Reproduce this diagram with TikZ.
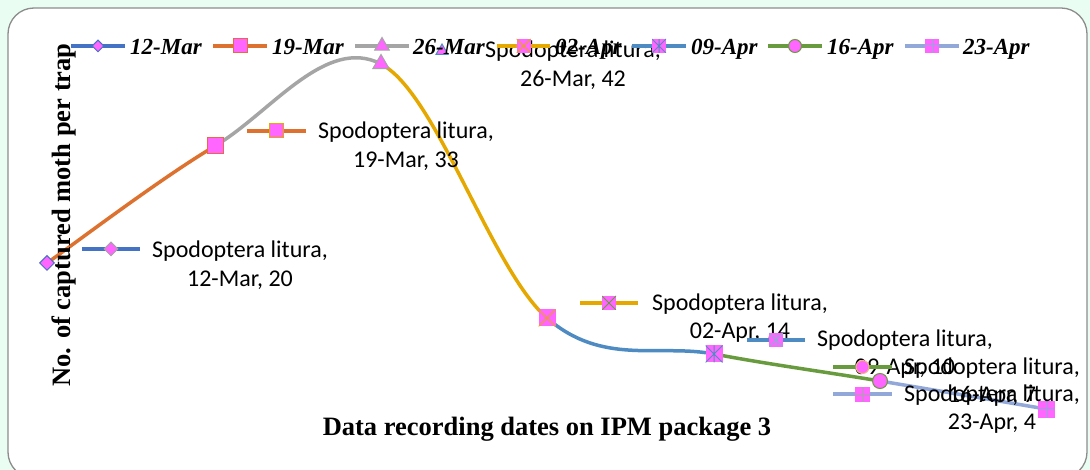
\documentclass[tikz,border=0pt]{standalone}
\usepackage{fontspec}
\setmainfont{Liberation Serif}
\newfontfamily\lblfont{Carlito}
\usetikzlibrary{shapes.geometric}

\definecolor{mint}{HTML}{E9FDF3}
\definecolor{framegray}{HTML}{8C8C8C}
\definecolor{pinkmk}{HTML}{FF66FF}
\definecolor{serA}{HTML}{4472C4}
\definecolor{serB}{HTML}{DD7230}
\definecolor{serC}{HTML}{A5A5A5}
\definecolor{serD}{HTML}{E5A800}
\definecolor{serE}{HTML}{4E8BC2}
\definecolor{serF}{HTML}{689B3E}
\definecolor{serG}{HTML}{92A8D8}
\definecolor{sqedge}{HTML}{E8684A}
\definecolor{peach}{HTML}{F4B183}

\begin{document}
\begin{tikzpicture}[x=1pt,y=-1pt,
    mk/.style={fill=pinkmk,inner sep=0pt,line width=1pt},
    mkdia/.style={mk,diamond,draw=#1,minimum size=15pt},
    mksq/.style={mk,rectangle,draw=#1,minimum size=16pt},
    mktri/.style={mk,regular polygon,regular polygon sides=3,draw=#1,minimum size=19pt},
    mkdot/.style={mk,circle,draw=#1,minimum size=15pt},
    mkcross/.style={mk,rectangle,minimum size=17pt,path picture={
        \draw[#1,line width=1pt] (path picture bounding box.south west) -- (path picture bounding box.north east)
            (path picture bounding box.north west) -- (path picture bounding box.south east);}},
    mkstar/.style={mk,rectangle,minimum size=17pt,path picture={
        \draw[#1,line width=1pt] (path picture bounding box.south west) -- (path picture bounding box.north east)
            (path picture bounding box.north west) -- (path picture bounding box.south east)
            (path picture bounding box.north) -- (path picture bounding box.south);}},
    mkplus/.style={mk,rectangle,minimum size=17pt,path picture={
        \draw[#1,line width=1pt] (path picture bounding box.north) -- (path picture bounding box.south)
            (path picture bounding box.west) -- (path picture bounding box.east);}},
    series/.style={line width=3.5pt,#1},
    keyln/.style={line width=4pt,#1},
    legln/.style={line width=4pt,#1},
    lbl/.style={font=\lblfont\fontsize{24}{28.5}\selectfont,align=center,inner sep=0pt},
    leg/.style={font=\bfseries\itshape\fontsize{23}{27}\selectfont,anchor=base west,inner sep=0pt},
    ttl/.style={font=\bfseries\fontsize{26.5}{30}\selectfont,inner sep=0pt}]

    \useasboundingbox (0,0) rectangle (1090,470);
    \fill[mint] (0,0) rectangle (1090,470);
    \draw[framegray,line width=1.3pt,fill=white,rounded corners=26pt] (8,8) rectangle (1087,478);

    % data points
    \coordinate (d1) at (47,263);
    \coordinate (d2) at (215,146);
    \coordinate (d3) at (381,64);
    \coordinate (d4) at (547,318);
    \coordinate (d5) at (714,354);
    \coordinate (d6) at (880,381);
    \coordinate (d7) at (1046,409);

    % smoothed line
    \draw[series=serB] (d1) .. controls (75,243.5) and (159.3,179.2) .. (d2);
    \draw[series=serC] (d2) .. controls (270.7,112.8) and (325.7,35.3) .. (d3);
    \draw[series=serD] (d3) .. controls (436.3,92.7) and (491.5,269.7) .. (d4);
    \draw[series=serE] (d4) .. controls (602.5,366.3) and (658.5,343.5) .. (d5);
    \draw[series=serF] (d5) .. controls (769.5,364.5) and (824.7,371.8) .. (d6);
    \draw[series=serG] (d6) .. controls (935.3,390.2) and (1018.3,404.3) .. (d7);

    \node[mkdia=serA] (d1m) at (d1) {};
    \node[mksq=sqedge] (d2m) at (d2) {};
    \node[mktri=serC] (d3m) at (d3) {};
    \node[mkcross=serD] (d4m) at (d4) {};
    \node[mkstar=serE] (d5m) at (d5) {};
    \node[mkdot=serF] (d6m) at (d6) {};
    \node[mkplus=serG] (d7m) at (d7) {};

    % axis titles
    \node[ttl] (xt) at (547,429) {Data recording dates on IPM package 3};
    \node[ttl,rotate=90] (yt) at (64,215) {No. of captured moth per trap};

    % data labels
    \draw[keyln=serA] (82,249) -- (140,249) node[pos=.5,mkdia=serC,minimum size=14pt] (k1) {};
    \node[lbl] (l1) at (240,265) {Spodoptera litura,\\12-Mar, 20};
    \draw[keyln=serB] (247,131) -- (306,131) node[pos=.5,mksq=serD,minimum size=14pt] (k2) {};
    \node[lbl] (l2) at (406,146) {Spodoptera litura,\\19-Mar, 33};
    \node[mktri=serE,minimum size=14pt,line width=1pt] (k3) at (442,51) {};
    \node[lbl] (l3) at (573,65) {Spodoptera litura,\\26-Mar, 42};
    \draw[keyln=serD] (580,303) -- (638,303) node[pos=.5,mkcross=serF,minimum size=14pt] (k4) {};
    \node[lbl] (l4) at (740,318) {Spodoptera litura,\\02-Apr, 14};
    \draw[keyln=serE] (747,340) -- (805,340) node[pos=.5,mkstar=serG,minimum size=14pt] (k5) {};
    \node[lbl] (l5) at (905,354) {Spodoptera litura,\\09-Apr, 10};
    \draw[keyln=serF] (833,367) -- (892,367) node[pos=.5,mkdot=peach,minimum size=13pt] (k6) {};
    \node[lbl] (l6) at (992,382) {Spodoptera litura,\\16-Apr, 7};
    \draw[keyln=serG] (833,394) -- (892,394) node[pos=.5,mkplus=serC,minimum size=15pt] (k7) {};
    \node[lbl] (l7) at (992,409) {Spodoptera litura,\\23-Apr, 4};

    % legend
    \draw[legln=serA] (71,46) -- (125,46) node[pos=.5,mkdia=serA,minimum size=12pt] (g1) {};
    \node[leg] (g1t) at (130,55) {12-Mar};
    \draw[legln=serB] (213,46) -- (267,46) node[pos=.5,mksq=sqedge,minimum size=14pt] (g2) {};
    \node[leg] (g2t) at (272,55) {19-Mar};
    \draw[legln=serC] (355,46) -- (409,46) node[pos=.5,mktri=serC,minimum size=17pt] (g3) {};
    \node[leg] (g3t) at (413,55) {26-Mar};
    \draw[legln=serD] (497,46) -- (550,46) node[pos=.5,mkcross=serD,minimum size=14pt] (g4) {};
    \node[leg] (g4t) at (555,55) {02-Apr};
    \draw[legln=serE] (632,46) -- (686,46) node[pos=.5,mkstar=serE,minimum size=14pt] (g5) {};
    \node[leg] (g5t) at (691,55) {09-Apr};
    \draw[legln=serF] (768,46) -- (822,46) node[pos=.5,mkdot=serF,minimum size=13pt] (g6) {};
    \node[leg] (g6t) at (827,55) {16-Apr};
    \draw[legln=serG] (905,46) -- (959,46) node[pos=.5,mkplus=serG,minimum size=14pt] (g7) {};
    \node[leg] (g7t) at (963,55) {23-Apr};
\end{tikzpicture}
\end{document}
